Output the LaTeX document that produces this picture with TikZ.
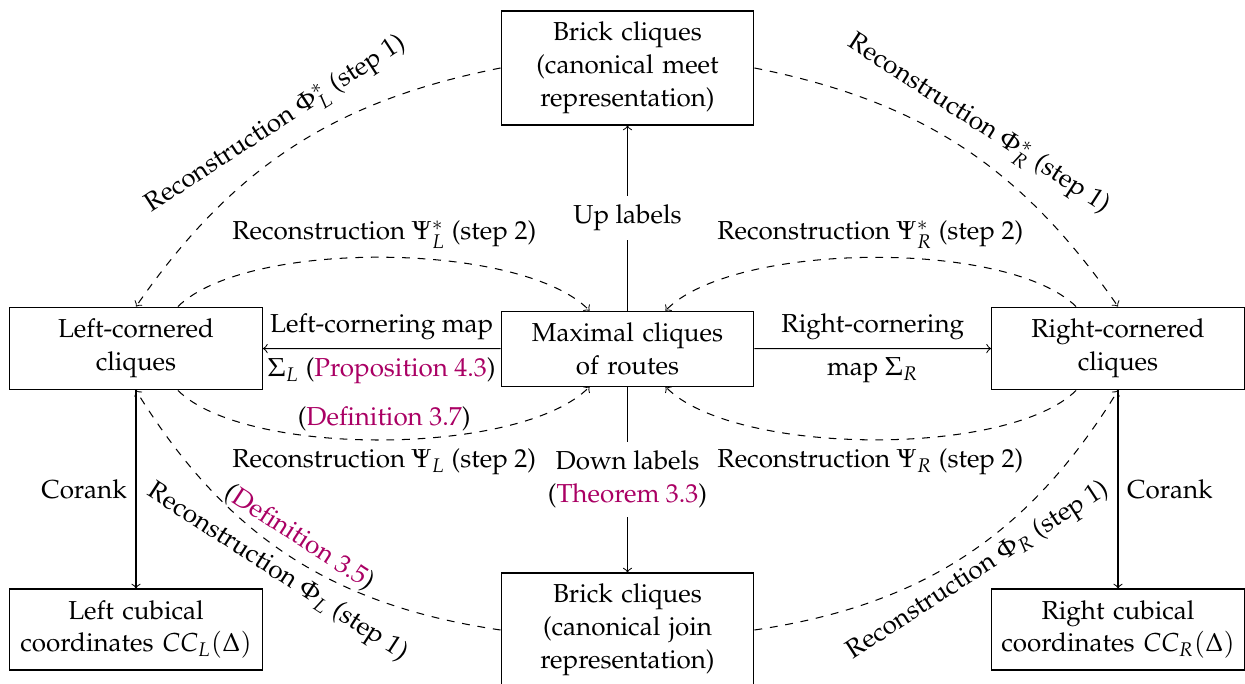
\documentclass[tikz,border=0pt]{standalone}
\usepackage[T1]{fontenc}
\usepackage{mathpazo}
\linespread{1.05}
\definecolor{linkc}{RGB}{170,0,100}
\newcommand{\lk}[1]{\textcolor{linkc}{#1}}
\begin{document}
\begin{tikzpicture}[x=0.3846pt,y=0.3846pt,
  box/.style={draw, text width=90.6pt, align=center, inner sep=0.3333em},
  arr/.style={->},
  darr/.style={->, dashed},
  lab/.style={inner sep=0.3333em}]
\useasboundingbox (0,0) rectangle (1245,-684);
% boxes
\node[box, minimum height=43.85pt] (top) at (627.5,-68) {Brick cliques\\(canonical meet\\representation)};
\node[box, minimum height=31.9pt] (left) at (136,-348.5) {Left-cornered\\cliques};
\node[box, minimum height=28.85pt] (center) at (627.5,-348.7) {Maximal cliques\\of routes};
\node[box, minimum height=31.9pt] (right) at (1118,-348.5) {Right-cornered\\cliques};
\node[box, minimum height=31.15pt] (bl) at (136,-629.5) {Left cubical\\coordinates $CC_L(\Delta)$};
\node[box, minimum height=43.85pt] (bottom) at (627.5,-630) {Brick cliques\\(canonical join\\representation)};
\node[box, minimum height=31.15pt] (br) at (1118,-629.5) {Right cubical\\coordinates $CC_R(\Delta)$};
% solid arrows
\draw[arr] (center) -- node[lab, fill=white] (uplab) {Up labels} (top);
\draw[arr] (center) -- node[lab, fill=white, align=center] (downlab) {Down labels\\(\lk{Theorem 3.3})} (bottom);
\draw[arr] (center) -- node[lab, above] (lcm1) {Left-cornering map} node[lab, below] (lcm2) {$\Sigma_L$ (\lk{Proposition 4.3})} (left);
\draw[arr] (center) -- node[lab, above] (rcm1) {Right-cornering} node[lab, below] (rcm2) {map $\Sigma_R$} (right);
\draw[arr] (left) -- node[lab, left] (corl) {Corank} (bl);
\draw[arr] (right) -- node[lab, right] (corr) {Corank} (br);
% dashed curves, step 1
\draw[darr] (top.west) to[bend right=22] (left.north);
\draw[darr] (top.east) to[bend left=22] (right.north);
\draw[darr] (bottom.west) to[bend left=25] (left.south);
\draw[darr] (bottom.east) to[bend right=25] (right.south);
% dashed curves, step 2
\draw[darr] (left) to[bend left=45, looseness=0.6] node[lab, above] (psisl) {Reconstruction $\Psi^*_L$ (step 2)} (center);
\draw[darr] (right) to[bend right=45, looseness=0.6] node[lab, above] (psisr) {Reconstruction $\Psi^*_R$ (step 2)} (center);
\draw[darr] (left) to[bend right=45, looseness=0.6] node[lab, above] (def37) {(\lk{Definition 3.7})} node[lab, below] (psil) {Reconstruction $\Psi_L$ (step 2)} (center);
\draw[darr] (right) to[bend left=45, looseness=0.6] node[lab, below] (psir) {Reconstruction $\Psi_R$ (step 2)} (center);
% sloped labels of step 1 curves
\node[lab, rotate=33] (phisl) at (276,-125) {Reconstruction $\Phi^*_L$ (step 1)};
\node[lab, rotate=-33] (phisr) at (978,-125) {Reconstruction $\Phi^*_R$ (step 1)};
\node[lab, rotate=-33] (phil) at (277,-573) {Reconstruction $\Phi_L$ (step 1)};
\node[lab, rotate=33] (phir) at (978,-571) {Reconstruction $\Phi_R$ (step 1)};
\node[lab, rotate=-33] (def35) at (299,-538) {(\lk{Definition 3.5})};
\end{tikzpicture}
\end{document}
